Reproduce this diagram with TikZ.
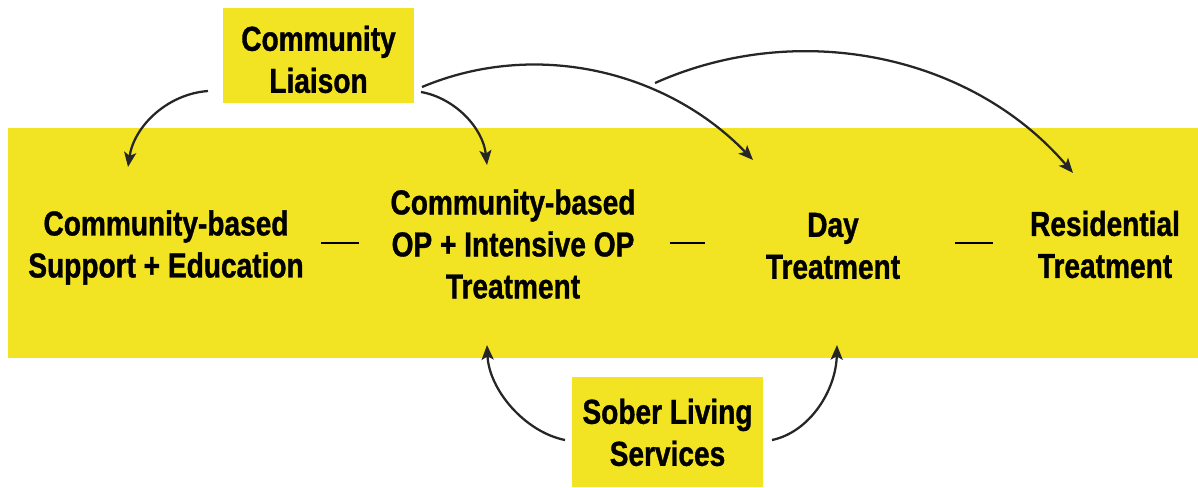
\documentclass[tikz,border=0pt]{standalone}
\usepackage{fontspec}
\setmainfont{Liberation Sans}[FakeStretch=0.81, BoldFeatures={FakeBold=1}]
\usetikzlibrary{arrows.meta}
\definecolor{band}{RGB}{242,228,34}
\definecolor{ink}{RGB}{38,38,38}
\begin{document}
\begin{tikzpicture}[x=0.75pt,y=-0.75pt,
  lbl/.style={font=\bfseries\fontsize{26}{31.5}\selectfont, align=center, inner sep=0pt, text=black},
  box/.style={fill=band, draw=none, inner sep=0pt},
  link/.style={draw=ink, line width=1.7pt, -{Stealth[length=11pt,width=9pt,inset=2.5pt]}},
  bar/.style={draw=black, line width=2pt}]
\useasboundingbox (0,0) rectangle (1198,487);
% continuum band
\node[box, minimum width=892.5pt, minimum height=172.5pt] (bandbox) at (603,243) {};
% side boxes
\node[box, minimum width=143.25pt, minimum height=71.25pt] (liaisonbox) at (318.5,55.5) {};
\node[box, minimum width=143.25pt, minimum height=82.5pt] (soberbox) at (667.5,432) {};
% labels
\node[lbl] (liaison) at (318.5,59.4) {Community\\Liaison};
\node[lbl] (sober) at (667.5,432.4) {Sober Living\\Services};
\node[lbl] (support) at (166,247.5) {Community-based\\Support + Education};
\node[lbl] (op) at (513,244) {Community-based\\OP + Intensive OP\\Treatment};
\node[lbl] (day) at (833,246) {Day\\Treatment};
\node[lbl] (res) at (1105,244.5) {Residential\\Treatment};
% dashes between levels
\coordinate (b1s) at (321,243); \coordinate (b1e) at (359,243);
\coordinate (b2s) at (670,243); \coordinate (b2e) at (705,243);
\coordinate (b3s) at (955,243); \coordinate (b3e) at (993,243);
\draw[bar] (b1s) -- (b1e);
\draw[bar] (b2s) -- (b2e);
\draw[bar] (b3s) -- (b3e);
% arrow ends
\coordinate (a1s) at (208,91);  \coordinate (a1e) at (128,167);
\coordinate (a2s) at (421,92);  \coordinate (a2e) at (487,165);
\coordinate (a3s) at (422,87);  \coordinate (a3e) at (753,160);
\coordinate (a4s) at (655,83);  \coordinate (a4e) at (1073,173);
\coordinate (a5s) at (565,440); \coordinate (a5e) at (487,345);
\coordinate (a6s) at (772,440); \coordinate (a6e) at (837,345);
\draw[link] (a1s) .. controls (167,94) and (134,126.5) .. (a1e);
\draw[link] (a2s) .. controls (455,98) and (483,128) .. (a2e);
\draw[link] (a3s) .. controls (536,39) and (667,71) .. (a3e);
\draw[link] (a4s) .. controls (798,19) and (971,54) .. (a4e);
\draw[link] (a5s) .. controls (525,432) and (489,390) .. (a5e);
\draw[link] (a6s) .. controls (810,432) and (836,390) .. (a6e);
\end{tikzpicture}
\end{document}
